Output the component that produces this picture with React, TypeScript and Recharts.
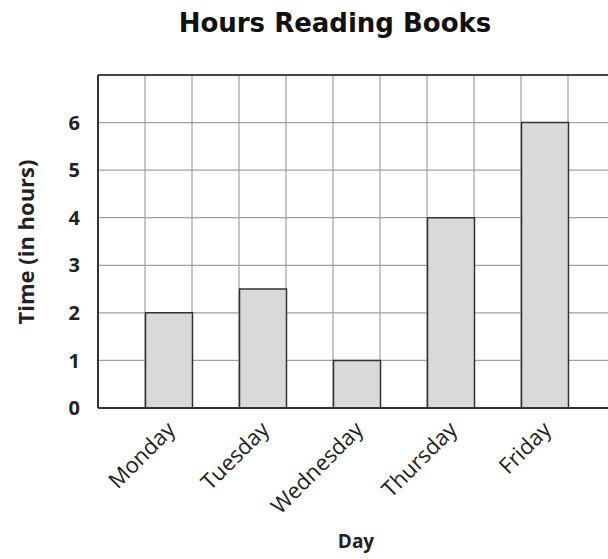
import React from 'react';
import { BarChart, Bar, XAxis, YAxis, CartesianGrid, ReferenceLine } from 'recharts';

const days = ['Monday', 'Tuesday', 'Wednesday', 'Thursday', 'Friday'];
const hours = [2, 2.5, 1, 4, 6];
const yTicks = [0, 1, 2, 3, 4, 5, 6, 7];

const data = days.map((d, i) => ({ day: d, hours: hours[i] }));

const FONT = '"Open Sans", "Liberation Sans", sans-serif';
const X_PAD = { left: 23.5, right: 23.5 };

const DayTick = (props: any) => {
  const { x, y, payload } = props;
  return (
    <g transform={`translate(${x + 8},${y + 15})`}>
      <text x={0} y={0} textAnchor="end" transform="rotate(-45)" fontFamily={FONT} fontSize={22} fill="#222">
        {payload.value}
      </text>
    </g>
  );
};

// vertical grid lines at the plot edges and at every bar edge (bar = half of each band)
const verticalLines = ({ xAxis, offset }: any) => {
  const left = offset.left;
  const right = offset.left + offset.width;
  const lines: number[] = [left, right];
  let done = false;
  try {
    const s = xAxis && xAxis.scale;
    const call = (v: string) =>
      typeof s === 'function' ? s(v) : s && typeof s.map === 'function' ? s.map(v) : undefined;
    const bw = s && typeof s.bandwidth === 'function' ? s.bandwidth() : undefined;
    if (bw) {
      const pts: number[] = [];
      days.forEach((d) => {
        const st = call(d);
        if (typeof st !== 'number' || isNaN(st)) throw new Error('no');
        const c = st + bw / 2;
        pts.push(c - bw / 4, c + bw / 4);
      });
      lines.push(...pts);
      done = true;
    }
  } catch (e) {
    done = false;
  }
  if (!done) {
    const band = (offset.width - X_PAD.left - X_PAD.right) / days.length;
    days.forEach((_, i) => {
      const c = left + X_PAD.left + band * (i + 0.5);
      lines.push(c - band / 4, c + band / 4);
    });
  }
  return lines;
};

export default function App() {
  return (
    <div style={{ position: 'absolute', left: 0, top: 0, width: 608, height: 559, overflow: 'hidden', background: '#fff' }}>
      <div style={{ position: 'absolute', left: 0, top: 7, width: 670, textAlign: 'center', fontFamily: '"DejaVu Sans", sans-serif', fontWeight: 'bold', fontSize: 26, color: '#111', lineHeight: '32px' }}>
        Hours Reading Books
      </div>
      <div style={{ position: 'absolute', left: 25, top: 242, width: 0, height: 0 }}>
        <div style={{ position: 'absolute', left: -100, top: -14, width: 200, textAlign: 'center', transform: 'rotate(-90deg)', fontFamily: FONT, fontWeight: 'bold', fontSize: 22, color: '#222', lineHeight: '28px' }}>
          Time (in hours)
        </div>
      </div>
      <div style={{ position: 'absolute', left: 256, top: 529, width: 200, textAlign: 'center', fontFamily: FONT, fontWeight: 'bold', fontSize: 19, color: '#222', lineHeight: '24px' }}>
        Day
      </div>
      <div style={{ position: 'absolute', left: 0, top: 0 }}>
        <BarChart width={640} height={559} data={data} margin={{ top: 75, left: 58, right: 25, bottom: 51 }}>
          <CartesianGrid xAxisId="cat" stroke="#a0a0a0" strokeWidth={1.2} verticalCoordinatesGenerator={verticalLines} />
          <XAxis
            xAxisId="cat"
            dataKey="day"
            height={100}
            padding={X_PAD}
            tick={<DayTick />}
            tickLine={false}
            axisLine={{ stroke: '#333', strokeWidth: 2 }}
            interval={0}
          />
          <YAxis
            width={40}
            domain={[0, 7]}
            ticks={yTicks}
            tickFormatter={(v: number) => (v === 7 ? '' : String(v))}
            tickLine={false}
            tickSize={0}
            tickMargin={18}
            axisLine={{ stroke: '#333', strokeWidth: 2 }}
            tick={{ fontFamily: FONT, fontSize: 20, fontWeight: 'bold', fill: '#222' }}
          />
          <ReferenceLine xAxisId="cat" y={7} stroke="#444" strokeWidth={2} ifOverflow="extendDomain" />
          <Bar xAxisId="cat" dataKey="hours" barSize={47} fill="#d9d9d9" stroke="#333" strokeWidth={1.5} isAnimationActive={false} />
        </BarChart>
      </div>
    </div>
  );
}
